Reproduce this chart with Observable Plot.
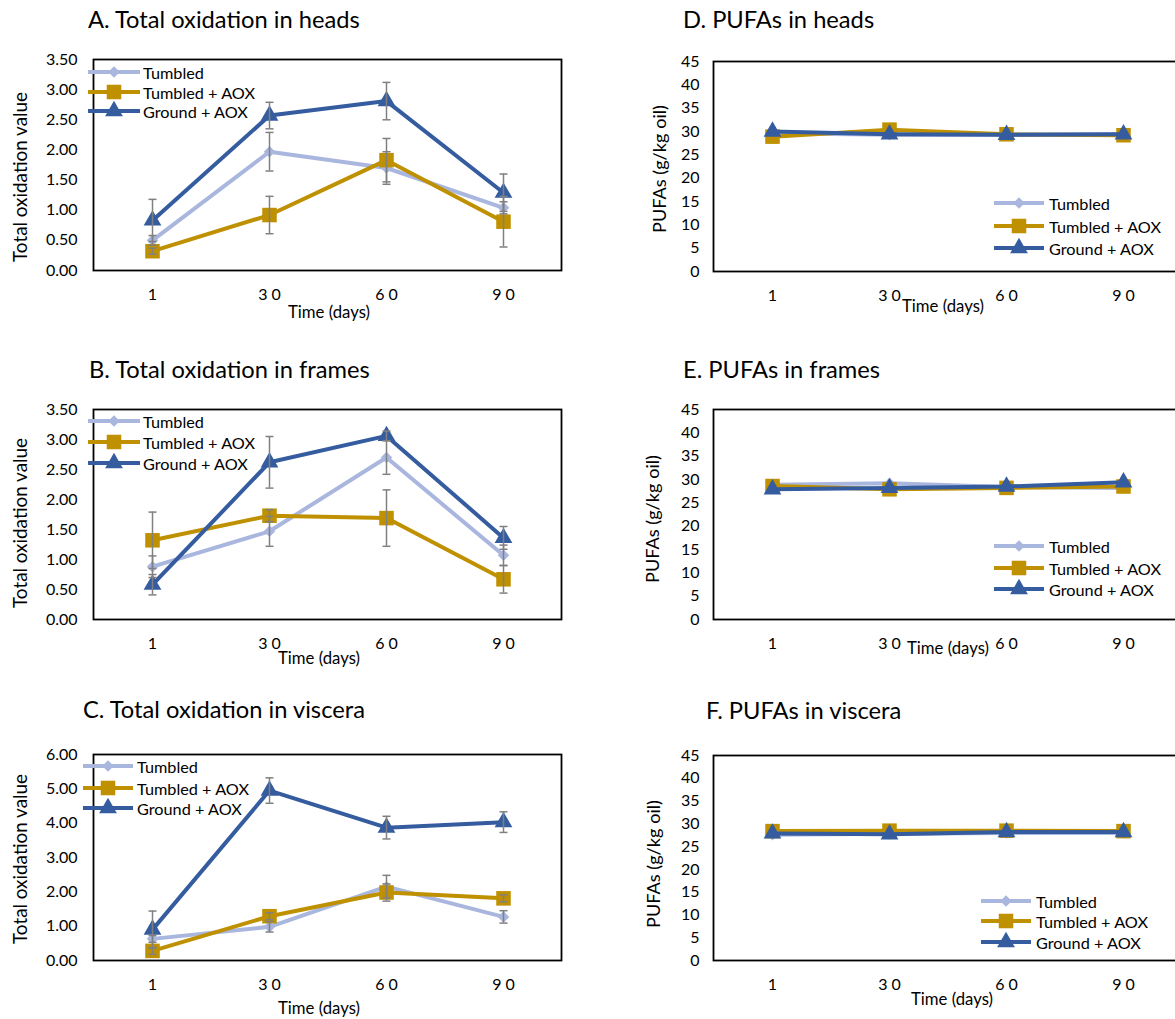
<!DOCTYPE html>
<html><head><meta charset="utf-8">
<script src="https://cdn.jsdelivr.net/npm/d3@7"></script>
<script src="https://cdn.jsdelivr.net/npm/@observablehq/plot@0.6"></script>
<style>
html,body{margin:0;padding:0;background:#fff;}
body{width:1175px;height:1019px;overflow:hidden;font-family:Lato,"Open Sans",sans-serif;}
#root{position:relative;width:1175px;height:1019px;overflow:hidden;}
#root > svg.panel{position:absolute;}
#overlay{position:absolute;left:0;top:0;pointer-events:none;}
</style>
</head><body><div id="root"></div>
<script>
// ---------- data ----------
const days = ["1", "30", "60", "90"];
const xTickLabels = ["1", "3 0", "6 0", "9 0"];
const seriesNames = ["Tumbled", "Tumbled + AOX", "Ground + AOX"];
const seriesColors = ["#A9B6DE", "#BF9000", "#345C9F"];

const oxTicks35 = [0, 0.5, 1, 1.5, 2, 2.5, 3, 3.5];
const oxTicks6 = [0, 1, 2, 3, 4, 5, 6];
const pufaTicks = [0, 5, 10, 15, 20, 25, 30, 35, 40, 45];

// Total oxidation (rows: Tumbled, Tumbled + AOX, Ground + AOX)
const headsOx = [[0.50, 1.97, 1.70, 1.04], [0.32, 0.92, 1.83, 0.81], [0.83, 2.57, 2.81, 1.29]];
const headsOxErr = [[0.08, 0.32, 0.27, 0.10], [0.05, 0.31, 0.36, 0.42], [0.35, 0.22, 0.31, 0.31]];
const framesOx = [[0.88, 1.47, 2.70, 1.07], [1.32, 1.73, 1.69, 0.67], [0.58, 2.62, 3.06, 1.36]];
const framesOxErr = [[0.18, 0.25, 0.28, 0.17], [0.47, 0.10, 0.47, 0.23], [0.17, 0.43, 0.08, 0.19]];
const visceraOx = [[0.63, 0.98, 2.15, 1.27], [0.28, 1.29, 1.98, 1.81], [0.90, 4.95, 3.87, 4.03]];
const visceraOxErr = [[0.10, 0.15, 0.33, 0.18], [0.10, 0.10, 0.25, 0.10], [0.54, 0.37, 0.33, 0.30]];

// PUFAs (g/kg oil)
const headsPufa = [[29.6, 29.3, 29.3, 29.4], [28.9, 30.4, 29.4, 29.2], [30.0, 29.4, 29.3, 29.4]];
const framesPufa = [[28.9, 29.2, 28.4, 28.2], [28.6, 27.9, 28.2, 28.5], [27.9, 28.2, 28.5, 29.4]];
const visceraPufa = [[27.6, 27.8, 28.0, 28.0], [28.4, 28.5, 28.5, 28.4], [27.9, 27.7, 28.2, 28.2]];

const titles = ["A. Total oxidation in heads", "B. Total oxidation in frames", "C. Total oxidation in viscera",
                "D. PUFAs in heads", "E. PUFAs in frames", "F. PUFAs in viscera"];
const yTitleOx = "Total oxidation value";
const yTitlePufa = "PUFAs (g/kg oil)";
const xTitle = "Time (days)";

// ---------- layout ----------
const FONT = "Lato, 'Open Sans', sans-serif";
const symbols = ["diamond2", "square", "triangle"];
const symbolR = [5.2, 8.2, 6.6];

const panels = [
  {title: titles[0], vals: headsOx, errs: headsOxErr, ticks: oxTicks35, fmt: d => d.toFixed(2), yTitle: yTitleOx,
   left: 0, top: 0, w: 600, h: 340, mt: 59, mb: 70, ml: 93, mr: 39, tp: 16,
   titlePos: [88, 28], yTitlePos: [19, 177], xTitlePos: [329, 311],
   legend: {x0: 88, x1: 140, tx: 143, ys: [72, 92, 111]}},
  {title: titles[1], vals: framesOx, errs: framesOxErr, ticks: oxTicks35, fmt: d => d.toFixed(2), yTitle: yTitleOx,
   left: 0, top: 345, w: 600, h: 340, mt: 64, mb: 66, ml: 93, mr: 39, tp: 16,
   titlePos: [89, 378], yTitlePos: [19, 523], xTitlePos: [319, 657],
   legend: {x0: 88, x1: 140, tx: 143, ys: [421, 442, 463]}},
  {title: titles[2], vals: visceraOx, errs: visceraOxErr, ticks: oxTicks6, fmt: d => d.toFixed(2), yTitle: yTitleOx,
   left: 0, top: 690, w: 600, h: 329, mt: 64, mb: 59, ml: 93, mr: 39, tp: 16,
   titlePos: [83, 718], yTitlePos: [19, 859], xTitlePos: [319, 1007],
   legend: {x0: 83, x1: 133, tx: 137, ys: [766, 788, 808]}},
  {title: titles[3], vals: headsPufa, errs: null, ticks: pufaTicks, fmt: d => String(d), yTitle: yTitlePufa,
   left: 600, top: 0, w: 620, h: 340, mt: 61, mb: 69, ml: 113, mr: 39, tp: 14,
   titlePos: [683, 28], yTitlePos: [659, 169], xTitlePos: [943, 305],
   legend: {x0: 994, x1: 1044, tx: 1049, ys: [203, 226, 248]}},
  {title: titles[4], vals: framesPufa, errs: null, ticks: pufaTicks, fmt: d => String(d), yTitle: yTitlePufa,
   left: 600, top: 345, w: 620, h: 340, mt: 64, mb: 66, ml: 113, mr: 39, tp: 14,
   titlePos: [683, 378], yTitlePos: [652, 519], xTitlePos: [948, 647],
   legend: {x0: 994, x1: 1044, tx: 1049, ys: [546, 568, 589]}},
  {title: titles[5], vals: visceraPufa, errs: null, ticks: pufaTicks, fmt: d => String(d), yTitle: yTitlePufa,
   left: 600, top: 690, w: 620, h: 329, mt: 65, mb: 59, ml: 113, mr: 39, tp: 14,
   titlePos: [706, 719], yTitlePos: [653, 864], xTitlePos: [952, 998],
   legend: {x0: 981, x1: 1031, tx: 1036, ys: [901, 921, 942]}}
];

const root = document.getElementById("root");
const capSymbol = {draw(ctx) { ctx.moveTo(-4, 0); ctx.lineTo(4, 0); }};

for (const p of panels) {
  const rows = seriesNames.flatMap((s, i) => days.map((d, j) => ({
    series: s, si: i, day: d, value: p.vals[i][j], err: p.errs ? p.errs[i][j] : 0
  })));
  const errRows = rows.filter(r => r.err > 0);
  const seriesMarks = seriesNames.flatMap((s, i) => {
    const data = rows.filter(r => r.si === i);
    return [
      Plot.line(data, {x: "day", y: "value", stroke: seriesColors[i], strokeWidth: 4, strokeLinejoin: "round"}),
      Plot.dot(data, {x: "day", y: "value", symbol: symbols[i], r: symbolR[i], fill: seriesColors[i], stroke: "none"})
    ];
  });
  const chart = Plot.plot({
    width: p.w, height: p.h,
    marginTop: p.mt, marginBottom: p.mb, marginLeft: p.ml, marginRight: p.mr,
    style: {fontFamily: FONT, fontSize: "16px", color: "#000", background: "transparent", overflow: "visible"},
    x: {type: "point", domain: days, padding: 0.5, label: null},
    y: {domain: [p.ticks[0], p.ticks[p.ticks.length - 1]], label: null},
    marks: [
      Plot.axisX({tickSize: 0, tickPadding: 18, label: null, fill: "#000",
        tickFormat: d => xTickLabels[days.indexOf(d)]}),
      Plot.axisY({ticks: p.ticks, tickSize: 0, tickPadding: p.tp, label: null, fill: "#000", tickFormat: p.fmt}),
      ...seriesMarks,
      Plot.ruleX(errRows, {x: "day", y1: d => d.value - d.err, y2: d => d.value + d.err, stroke: "#808080", strokeWidth: 1.5}),
      Plot.dot(errRows, {x: "day", y: d => d.value + d.err, symbol: capSymbol, fill: "none", stroke: "#808080", strokeWidth: 1.5}),
      Plot.dot(errRows, {x: "day", y: d => d.value - d.err, symbol: capSymbol, fill: "none", stroke: "#808080", strokeWidth: 1.5}),
      Plot.frame({stroke: "#000", strokeWidth: 1.8})
    ]
  });
  chart.classList.add("panel");
  chart.style.left = p.left + "px";
  chart.style.top = p.top + "px";
  root.appendChild(chart);
}

// ---------- overlay: titles, axis titles, legends ----------
const ov = d3.select(root).append("svg").attr("id", "overlay")
  .attr("width", 1175).attr("height", 1019).style("font-family", FONT);

function fitSize(text, targetWidth, base) {
  const t = ov.append("text").attr("font-size", base).text(text);
  const w = t.node().getComputedTextLength();
  t.remove();
  return base * targetWidth / w;
}
const titleSize = fitSize(titles[0], 272, 20);
const yOxSize = fitSize(yTitleOx, 170, 15);
const yPufaSize = fitSize(yTitlePufa, 128, 15);
const xTitleSize = fitSize(xTitle, 82, 15);
const legendSize = fitSize("Tumbled + AOX", 112, 15);

for (const p of panels) {
  ov.append("text").attr("x", p.titlePos[0]).attr("y", p.titlePos[1])
    .attr("font-size", titleSize).attr("fill", "#000").text(p.title);
  ov.append("text").attr("transform", `translate(${p.yTitlePos[0]},${p.yTitlePos[1]}) rotate(-90)`)
    .attr("text-anchor", "middle").attr("dominant-baseline", "central")
    .attr("font-size", p.yTitle === yTitleOx ? yOxSize : yPufaSize).attr("fill", "#000").text(p.yTitle);
  ov.append("text").attr("x", p.xTitlePos[0]).attr("y", p.xTitlePos[1])
    .attr("text-anchor", "middle").attr("dominant-baseline", "central")
    .attr("font-size", xTitleSize).attr("fill", "#000").text(xTitle);
  const L = p.legend;
  seriesNames.forEach((s, i) => {
    const y = L.ys[i];
    ov.append("line").attr("x1", L.x0).attr("x2", L.x1).attr("y1", y).attr("y2", y)
      .attr("stroke", seriesColors[i]).attr("stroke-width", 4);
    const sym = [d3.symbolDiamond2, d3.symbolSquare, d3.symbolTriangle][i];
    ov.append("path").attr("d", d3.symbol(sym, Math.PI * symbolR[i] ** 2)())
      .attr("transform", `translate(${(L.x0 + L.x1) / 2},${y})`).attr("fill", seriesColors[i]);
    ov.append("text").attr("x", L.tx).attr("y", y).attr("dominant-baseline", "central")
      .attr("font-size", legendSize).attr("fill", "#000").text(s);
  });
}
</script>
</body></html>
